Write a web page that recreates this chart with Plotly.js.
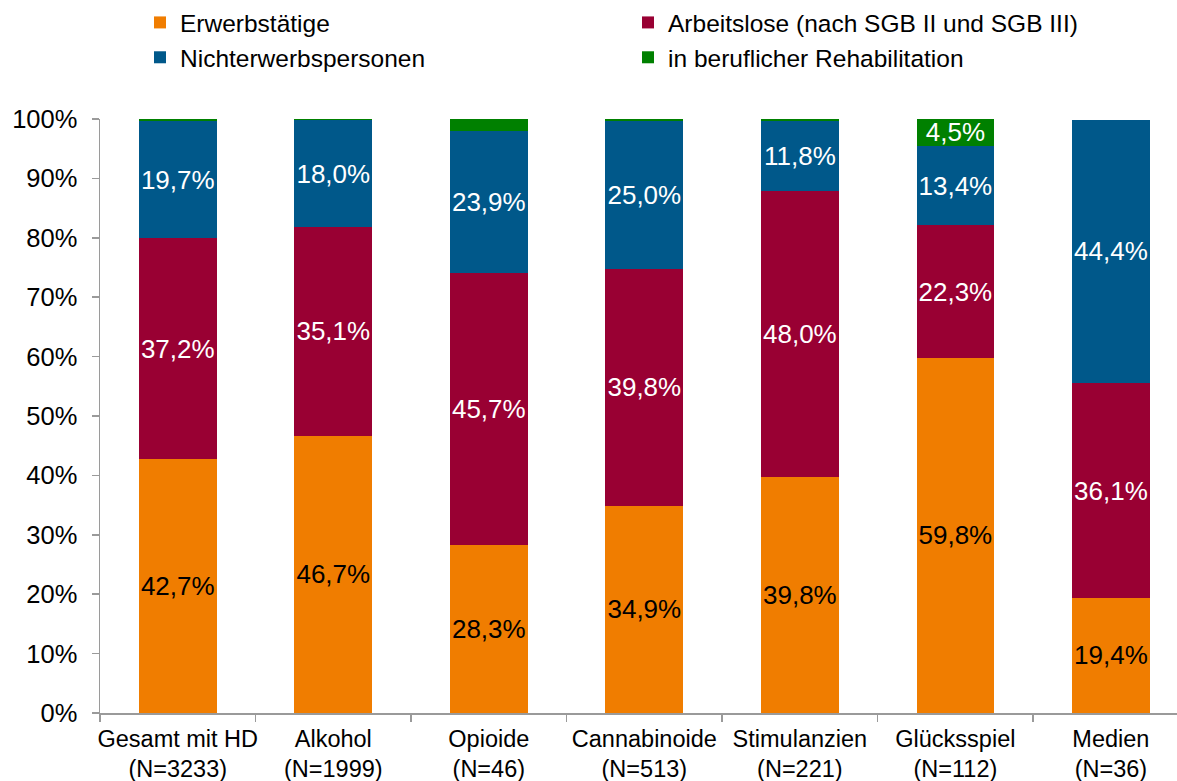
<!DOCTYPE html>
<html>
<head>
<meta charset="utf-8">
<script src="https://cdn.plot.ly/plotly-3.0.1.min.js"></script>
<style>html,body{margin:0;padding:0;background:#fff;}#chart{width:1177px;height:781px;}</style>
</head>
<body>
<div id="chart"></div>
<script>
const categories = [
  "Gesamt mit HD<br>(N=3233)",
  "Alkohol<br>(N=1999)",
  "Opioide<br>(N=46)",
  "Cannabinoide<br>(N=513)",
  "Stimulanzien<br>(N=221)",
  "Glücksspiel<br>(N=112)",
  "Medien<br>(N=36)"
];
const erwerbstaetige   = [42.7, 46.7, 28.3, 34.9, 39.8, 59.8, 19.4];
const arbeitslose      = [37.2, 35.1, 45.7, 39.8, 48.0, 22.3, 36.1];
const nichterwerbs     = [19.7, 18.0, 23.9, 25.0, 11.8, 13.4, 44.4];
const rehabilitation   = [0.5, 0.3, 2.1, 0.3, 0.4, 4.5, 0.0];
const rehabLabelShown  = [false, false, false, false, false, true, false];

const seriesNames = [
  "Erwerbstätige",
  "Arbeitslose (nach SGB II und SGB III)",
  "Nichterwerbspersonen",
  "in beruflicher Rehabilitation"
];
const colors = ["#F07D00", "#990033", "#00588A", "#008000"];
const labelColors = ["#000000", "#ffffff", "#ffffff", "#ffffff"];

const fmt = v => v.toFixed(1).replace(".", ",") + "%";
const FONT = "Arial, 'Liberation Sans', sans-serif";

const allValues = [erwerbstaetige, arbeitslose, nichterwerbs, rehabilitation];
const traces = allValues.map((vals, i) => ({
  type: "bar",
  name: seriesNames[i],
  x: categories,
  y: vals,
  marker: {color: colors[i], line: {width: 0}},
  text: vals.map((v, j) => (i === 3 ? (rehabLabelShown[j] ? fmt(v) : "") : fmt(v))),
  textposition: "inside",
  insidetextanchor: "middle",
  constraintext: "none",
  textangle: 0,
  insidetextfont: {family: FONT, size: 26, color: labelColors[i]},
  hoverinfo: "skip"
}));

const layout = {
  width: 1177,
  height: 781,
  barmode: "stack",
  bargap: 0.5,
  paper_bgcolor: "#ffffff",
  plot_bgcolor: "#ffffff",
  font: {family: FONT, size: 24, color: "#000000"},
  margin: {l: 100, r: 0, t: 119, b: 68, pad: 0},
  showlegend: true,
  legend: {
    orientation: "h",
    xref: "container",
    yref: "container",
    x: 140 / 1177,
    y: 1,
    xanchor: "left",
    yanchor: "top",
    entrywidth: 443,
    entrywidthmode: "pixels",
    traceorder: "normal",
    font: {family: FONT, size: 24.5, color: "#000000"},
    bgcolor: "rgba(0,0,0,0)",
    borderwidth: 0,
    tracegroupgap: 0
  },
  xaxis: {
    type: "category",
    range: [-0.5, 6.425],
    tickson: "boundaries",
    tickangle: 0,
    ticks: "outside",
    ticklen: 7,
    tickwidth: 1.5,
    tickcolor: "#9A9A9A",
    ticklabelstandoff: 4,
    showline: true,
    linecolor: "#9A9A9A",
    linewidth: 1.5,
    showgrid: false,
    zeroline: false,
    tickfont: {family: FONT, size: 23.5, color: "#000000"},
    fixedrange: true
  },
  yaxis: {
    range: [0, 100],
    dtick: 10,
    tick0: 0,
    ticksuffix: "%",
    ticks: "outside",
    ticklen: 7,
    tickwidth: 1.5,
    tickcolor: "#9A9A9A",
    ticklabelstandoff: 9,
    showline: true,
    linecolor: "#9A9A9A",
    linewidth: 1.5,
    showgrid: false,
    zeroline: false,
    tickfont: {family: FONT, size: 25.5, color: "#000000"},
    fixedrange: true
  }
};

Plotly.newPlot("chart", traces, layout, {displayModeBar: false, staticPlot: true});
</script>
</body>
</html>
